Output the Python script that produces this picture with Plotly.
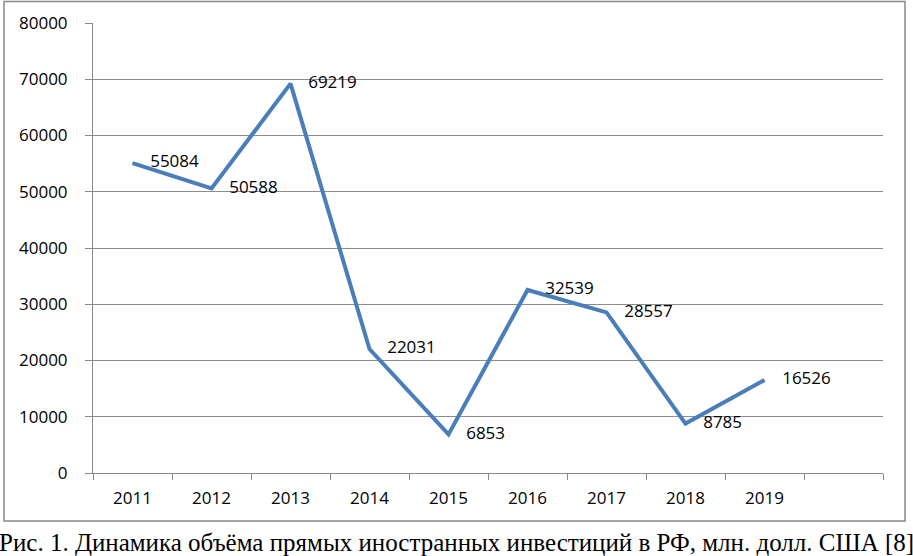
import plotly.graph_objects as go

years = [2011, 2012, 2013, 2014, 2015, 2016, 2017, 2018, 2019]
fdi = [55084, 50588, 69219, 22031, 6853, 32539, 28557, 8785, 16526]
y_ticks = [0, 10000, 20000, 30000, 40000, 50000, 60000, 70000, 80000]
caption = "Рис. 1. Динамика объёма прямых иностранных инвестиций в РФ, млн. долл. США [8]"

FONT = "Open Sans"
L, T, PW, PH = 93, 23, 790, 450

def px(x):
    return (x - L) / PW

def py(y):
    return (T + PH - y) / PH

fig = go.Figure()
fig.add_trace(go.Scatter(
    x=years, y=fdi,
    mode="lines+text",
    line=dict(color="#4a7ebb", width=4),
    text=[str(v) for v in fdi],
    texttemplate="    %{text}",
    textposition="middle right",
    textfont=dict(family=FONT, size=17, color="#000000"),
    cliponaxis=False,
    showlegend=False,
    hoverinfo="skip",
))

fig.update_layout(
    width=913, height=556,
    margin=dict(l=L, r=913 - L - PW, t=T, b=556 - T - PH, autoexpand=False),
    paper_bgcolor="white", plot_bgcolor="white",
    xaxis=dict(
        range=[2010.5, 2020.5],
        tickvals=years,
        ticktext=[str(y) for y in years],
        ticks="", showgrid=False, zeroline=False,
        showline=True, linecolor="#888888", linewidth=1,
        tickfont=dict(family=FONT, size=17, color="#000000"),
        ticklabelstandoff=10,
        minor=dict(tick0=2010.5, dtick=1, ticks="outside", ticklen=6,
                   tickcolor="#888888", showgrid=False),
        fixedrange=True, automargin=False,
    ),
    yaxis=dict(
        range=[0, 80000],
        tickvals=y_ticks,
        ticktext=[str(v) for v in y_ticks],
        ticks="outside", ticklen=7, tickcolor="#888888",
        showgrid=True, gridcolor="#8c8c8c", gridwidth=1,
        zeroline=False,
        showline=True, linecolor="#888888", linewidth=1,
        tickfont=dict(family=FONT, size=17, color="#000000"),
        ticklabelstandoff=14,
        fixedrange=True, automargin=False,
    ),
    shapes=[dict(
        type="rect", xref="paper", yref="paper",
        x0=px(4), x1=px(905), y0=py(521), y1=py(1.5),
        line=dict(color="#888888", width=1.5),
    )],
    annotations=[dict(
        text=caption, xref="paper", yref="paper",
        x=px(456.5), y=py(542),
        xanchor="center", yanchor="middle", showarrow=False,
        font=dict(family="Liberation Serif", size=25, color="#000000"),
    )],
)

fig.write_html(
    "out.html",
    config={"displayModeBar": False},
    post_script="document.body.style.margin='0';document.body.style.overflow='hidden';",
)
